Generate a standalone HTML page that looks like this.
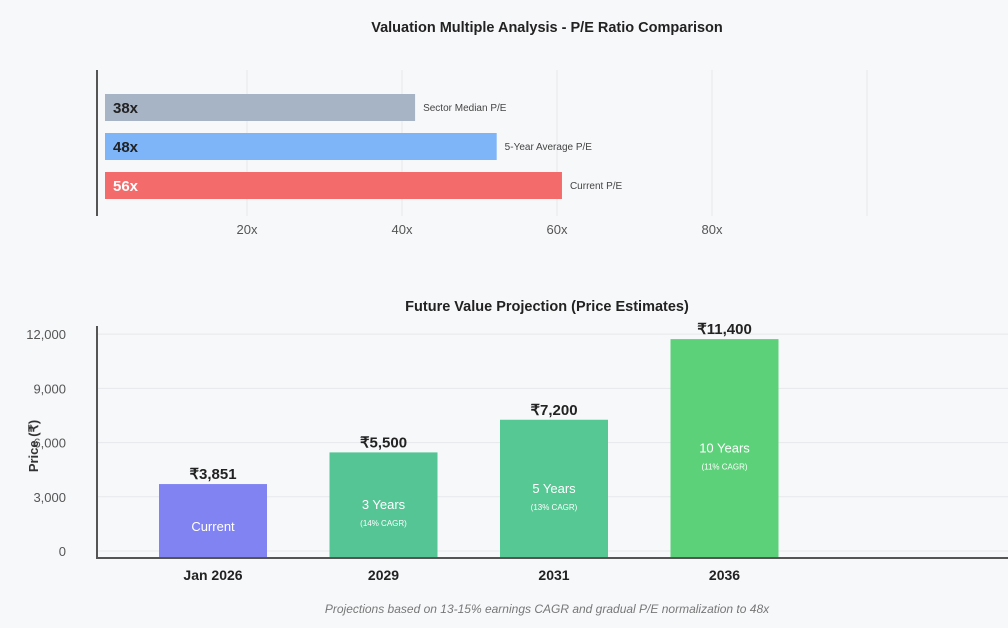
<!DOCTYPE html>
<html><head><meta charset="utf-8"><style>
body{margin:0;background:#f7f8fa;font-family:"Liberation Sans",sans-serif;}
svg{display:block}
</style></head><body>
<svg width="1008" height="628">
<text x="547" y="32" text-anchor="middle" font-size="14.5" font-weight="bold" fill="#222">Valuation Multiple Analysis - P/E Ratio Comparison</text>
<g id="topchart"></g>
<text x="547" y="311" text-anchor="middle" font-size="14.5" font-weight="bold" fill="#222">Future Value Projection (Price Estimates)</text>
<g id="botchart"></g>
<text x="38" y="446" text-anchor="middle" font-size="13" font-weight="bold" fill="#333" transform="rotate(-90 38 446)">Price (₹)</text>
<text x="547" y="613" text-anchor="middle" font-size="12" font-style="italic" fill="#777">Projections based on 13-15% earnings CAGR and gradual P/E normalization to 48x</text>
</svg>
<script>
const peLabels=["Sector Median P/E","5-Year Average P/E","Current P/E"];
const peValues=[38,48,56];
const peColors=["#a7b4c6","#7db5f8","#f36b6b"];
const peTicks=[20,40,60,80,100];
const cats=["Jan 2026","2029","2031","2036"];
const prices=[3851,5500,7200,11400];
const inner=["Current","3 Years","5 Years","10 Years"];
const cagr=["","(14% CAGR)","(13% CAGR)","(11% CAGR)"];
const barColors=["#8083f1","#55c595","#56c893","#5dd179"];
const yTicks=[0,3000,6000,9000,12000];
const NS="http://www.w3.org/2000/svg";
function mk(p,t,a,txt){const e=document.createElementNS(NS,t);for(const k in a)e.setAttribute(k,a[k]);if(txt!==undefined)e.textContent=txt;p.appendChild(e);return e;}
const topG=document.getElementById('topchart'),botG=document.getElementById('botchart');
const tx=v=>92+v*7.75, bx=v=>105+v*8.16;
peTicks.forEach((t,i)=>{
 const g=mk(topG,'line',{x1:tx(t),x2:tx(t),y1:70,y2:216,stroke:'#e6e8eb'});
 
 
 if(t<100){const l=mk(topG,'text',{x:tx(t),y:234,'text-anchor':'middle','font-size':13,fill:'#555'},t+'x');
 
 }
});
let a=mk(topG,'line',{x1:97,x2:97,y1:70,y2:216,stroke:'#555','stroke-width':2});


peValues.forEach((v,i)=>{
 const y=94+i*39;
 const r=mk(topG,'rect',{x:105,y:y,width:bx(v)-105,height:27,fill:peColors[i]});
 
 
 const t=mk(topG,'text',{x:113,y:y+19,'font-size':15,'font-weight':'bold',fill:i==2?'#fff':'#222'},v+'x');
 
 
 const l=mk(topG,'text',{x:bx(v)+8,y:y+17,'font-size':10,fill:'#444'},peLabels[i]);
 
 
});
const gy=v=>551-v*0.01807, by=v=>558-v*0.0192, cx=i=>213+i*170.5;
yTicks.forEach(t=>{
 const g=mk(botG,'line',{x1:97,x2:1008,y1:gy(t),y2:gy(t),stroke:'#e6e8eb'});
 
 
 const l=mk(botG,'text',{x:66,y:gy(t)+5,'text-anchor':'end','font-size':13,fill:'#555'},t.toLocaleString('en-US'));
 
 
});
prices.forEach((v,i)=>{
 const x=cx(i)-54,y=by(v),h=558-y;
 const r=mk(botG,'rect',{x:x,y:y,width:108,height:h,fill:barColors[i]});
 
 
 const t=mk(botG,'text',{x:cx(i),y:y-5,'text-anchor':'middle','font-size':15,'font-weight':'bold',fill:'#222'},'₹'+v.toLocaleString('en-US'));
 
 
 const m=y+h/2;
 const n=mk(botG,'text',{x:cx(i),y:cagr[i]?m+4:m+10,'text-anchor':'middle','font-size':13,fill:'#fff'},inner[i]);
 
 
 if(cagr[i]){const c=mk(botG,'text',{x:cx(i),y:m+21,'text-anchor':'middle','font-size':8,fill:'#fff'},cagr[i]);
 
 }
 const cl=mk(botG,'text',{x:cx(i),y:580,'text-anchor':'middle','font-size':14,'font-weight':'bold',fill:'#222'},cats[i]);
 
 
});
a=mk(botG,'line',{x1:97,x2:97,y1:326,y2:559,stroke:'#555','stroke-width':2});


a=mk(botG,'line',{x1:96,x2:1008,y1:558,y2:558,stroke:'#555','stroke-width':2});


</script>
</body></html>
